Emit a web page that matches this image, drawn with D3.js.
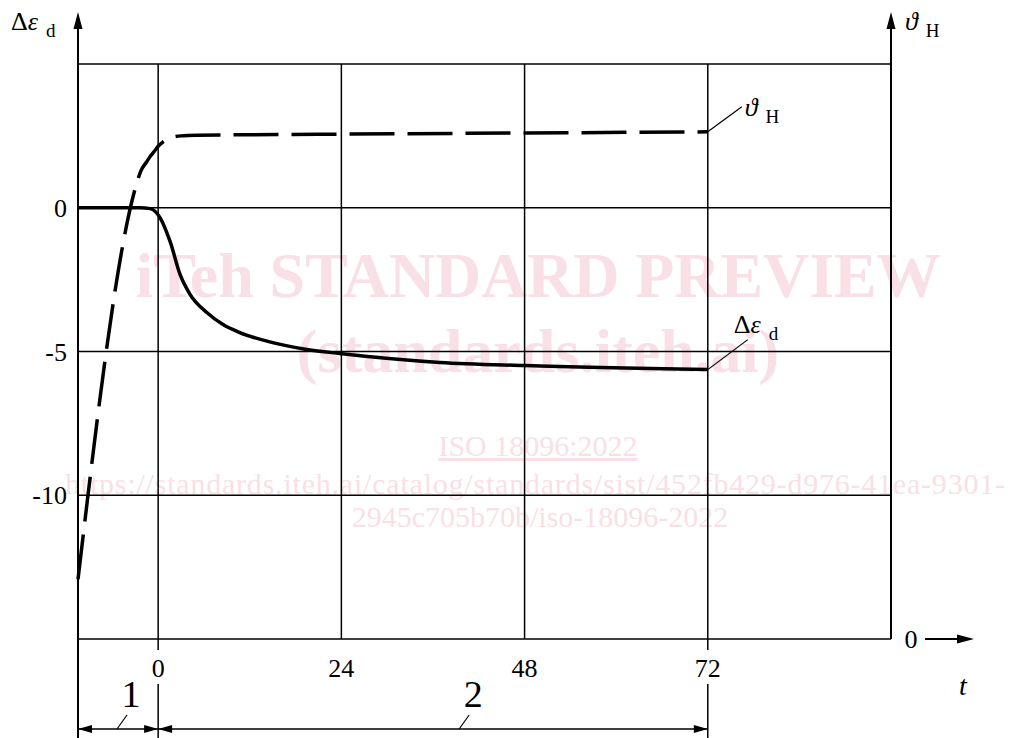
<!DOCTYPE html>
<html>
	<head>
		<meta charset="utf-8">
		<title>delta eps / theta H vs t</title>
		<script src="https://d3js.org/d3.v7.min.js"></script>
		<style>
			body { margin: 0; background: #fff; }
			text { font-family: "Liberation Serif", "DejaVu Serif", serif; }
		</style>
	</head>
	<body>
		<div id="chart"></div>
		<script>
			// values
			var tTicks = [0, 24, 48, 72];
			var epsTicks = [0, -5, -10];
			var gridEps = [5, 0, -5, -10, -15];
			var gridT = [0, 24, 48, 72];

			// solid line, delta eps_d
			var epsT = [-10.5, -2.4, -1.05, 0.26, 1.57, 2.88, 4.19, 6.41, 8.5, 10.7, 15, 19.5, 23.8, 36.9, 48, 72];
			var epsVal = [0, 0, -0.03, -0.35, -1.18, -2.33, -3.02, -3.65, -4.06, -4.34, -4.69, -4.93, -5.07, -5.38, -5.49, -5.63];

			// dashed line, theta_H (own axis, only 0 is marked, arbitrary units)
			var thetaT = [-10.5, -2.75, -2.3, -1.5, -1, -0.4, 0, 0.6, 1.2, 2, 3, 5, 24, 48, 72];
			var thetaVal = [10.4, 79.5, 81.3, 83.0, 84.0, 85.0, 85.7, 86.4, 86.9, 87.3, 87.5, 87.6, 87.8, 88.0, 88.2];

			// phases under the axis
			var phaseStart = [-10.5, 0];
			var phaseEnd = [0, 72];
			var phaseLabel = ["1", "2"];

			var width = 1010, height = 738;

			var xScale = d3.scaleLinear().domain([-10.5, 96]).range([78, 891]);
			var yScale = d3.scaleLinear().domain([-15, 5]).range([639, 64]);
			var thScale = d3.scaleLinear().domain([0, 100]).range([639, 64]);

			var svg = d3.select("#chart")
				.append("svg")
				.attr("width", width)
				.attr("height", height);

			var x0 = xScale.range()[0], x1 = xScale.range()[1];
			var yTop = yScale.range()[1], yBot = yScale.range()[0];

			// watermark, sits behind everything
			var wm = svg.append("g").attr("fill", "#f9dfe6");
			wm.append("text").text("iTeh STANDARD PREVIEW")
				.attr("x", 538).attr("y", 297)
				.attr("text-anchor", "middle")
				.attr("font-weight", "bold")
				.attr("font-size", 64)
				.attr("textLength", 805);
			wm.append("text").text("(standards.iteh.ai)")
				.attr("x", 538).attr("y", 372)
				.attr("text-anchor", "middle")
				.attr("font-weight", "bold")
				.attr("font-size", 62);
			wm.append("text").text("ISO 18096:2022")
				.attr("x", 538).attr("y", 456)
				.attr("text-anchor", "middle")
				.attr("font-size", 30)
				.attr("text-decoration", "underline");
			wm.append("text").text("https://standards.iteh.ai/catalog/standards/sist/452fb429-d976-41ea-9301-")
				.attr("x", 535).attr("y", 494)
				.attr("text-anchor", "middle")
				.attr("font-size", 30)
				.attr("textLength", 940);
			wm.append("text").text("2945c705b70b/iso-18096-2022")
				.attr("x", 540).attr("y", 527)
				.attr("text-anchor", "middle")
				.attr("font-size", 30);

			// grid
			gridEps.forEach(function(v){
				svg.append("line")
					.attr("x1", x0).attr("x2", x1)
					.attr("y1", yScale(v)).attr("y2", yScale(v))
					.style("stroke", "#000").style("stroke-width", 1.5);
			});
			gridT.forEach(function(t){
				svg.append("line")
					.attr("x1", xScale(t)).attr("x2", xScale(t))
					.attr("y1", yTop).attr("y2", yBot)
					.style("stroke", "#000").style("stroke-width", 1.5);
			});

			// left axis with arrow
			svg.append("line")
				.attr("x1", x0).attr("x2", x0)
				.attr("y1", height).attr("y2", 26)
				.style("stroke", "#000").style("stroke-width", 2);
			svg.append("path")
				.attr("d", "M" + x0 + ",12 L" + (x0 - 4.5) + ",29 L" + (x0 + 4.5) + ",29 Z")
				.attr("fill", "#000");

			// right axis with arrow
			svg.append("line")
				.attr("x1", x1).attr("x2", x1)
				.attr("y1", yBot).attr("y2", 26)
				.style("stroke", "#000").style("stroke-width", 2);
			svg.append("path")
				.attr("d", "M" + x1 + ",12 L" + (x1 - 4.5) + ",29 L" + (x1 + 4.5) + ",29 Z")
				.attr("fill", "#000");

			// t direction arrow after the right 0
			svg.append("line")
				.attr("x1", x1 + 34).attr("x2", x1 + 70)
				.attr("y1", yBot).attr("y2", yBot)
				.style("stroke", "#000").style("stroke-width", 2);
			svg.append("path")
				.attr("d", "M" + (x1 + 83) + "," + yBot + " L" + (x1 + 66) + "," + (yBot - 4.5) + " L" + (x1 + 66) + "," + (yBot + 4.5) + " Z")
				.attr("fill", "#000");
			svg.append("text").text("0")
				.attr("x", x1 + 20).attr("y", yBot + 9)
				.attr("text-anchor", "middle")
				.attr("font-size", 26);

			// left tick labels
			epsTicks.forEach(function(v){
				svg.append("text").text(v)
					.attr("x", 67).attr("y", yScale(v) + 9)
					.attr("text-anchor", "end")
					.attr("font-size", 26);
			});

			// t tick labels
			tTicks.forEach(function(t){
				svg.append("text").text(t)
					.attr("x", xScale(t)).attr("y", 677)
					.attr("text-anchor", "middle")
					.attr("font-size", 26);
			});
			svg.append("text").text("t")
				.attr("x", 963).attr("y", 695)
				.attr("text-anchor", "middle")
				.attr("font-style", "italic")
				.attr("font-size", 28);

			// extension lines below the plot for the phase limits
			[0, 72].forEach(function(t){
				svg.append("line")
					.attr("x1", xScale(t)).attr("x2", xScale(t))
					.attr("y1", yBot).attr("y2", 650)
					.style("stroke", "#000").style("stroke-width", 1.5);
				svg.append("line")
					.attr("x1", xScale(t)).attr("x2", xScale(t))
					.attr("y1", 684).attr("y2", height)
					.style("stroke", "#000").style("stroke-width", 1.5);
			});

			// dimension arrows for phases 1 and 2
			var dimY = 729;
			phaseStart.forEach(function(s, i){
				var a = xScale(s), b = xScale(phaseEnd[i]);
				svg.append("line")
					.attr("x1", a).attr("x2", b)
					.attr("y1", dimY).attr("y2", dimY)
					.style("stroke", "#000").style("stroke-width", 1.5);
				svg.append("path")
					.attr("d", "M" + a + "," + dimY + " L" + (a + 14) + "," + (dimY - 4) + " L" + (a + 14) + "," + (dimY + 4) + " Z")
					.attr("fill", "#000");
				svg.append("path")
					.attr("d", "M" + b + "," + dimY + " L" + (b - 14) + "," + (dimY - 4) + " L" + (b - 14) + "," + (dimY + 4) + " Z")
					.attr("fill", "#000");
				var lx = i == 0 ? a + 39 : a + 301;
				svg.append("line")
					.attr("x1", lx).attr("y1", dimY)
					.attr("x2", lx + 10).attr("y2", dimY - 14)
					.style("stroke", "#000").style("stroke-width", 1.2);
				svg.append("text").text(phaseLabel[i])
					.attr("x", lx + 14).attr("y", dimY - 22)
					.attr("text-anchor", "middle")
					.attr("font-size", 38);
			});

			// curves
			var epsData = epsT.map(function(t, i){ return [t, epsVal[i]]; });
			var thetaData = thetaT.map(function(t, i){ return [t, thetaVal[i]]; });

			var epsLine = d3.line()
				.x(function(d){ return xScale(d[0]); })
				.y(function(d){ return yScale(d[1]); })
				.curve(d3.curveMonotoneX);
			var thetaLine = d3.line()
				.x(function(d){ return xScale(d[0]); })
				.y(function(d){ return thScale(d[1]); })
				.curve(d3.curveMonotoneX);

			svg.append("path")
				.attr("d", thetaLine(thetaData))
				.style("fill", "none")
				.style("stroke", "#000")
				.style("stroke-width", 3.5)
				.style("stroke-dasharray", "45,13");

			svg.append("path")
				.attr("d", epsLine(epsData))
				.style("fill", "none")
				.style("stroke", "#000")
				.style("stroke-width", 3.5);

			// symbol + subscript drawn as two texts so they don't collide
			function symLabel(x, y, parts, sub) {
				var t = svg.append("text").attr("x", x).attr("y", y).attr("font-size", 26);
				parts.forEach(function(p){
					t.append("tspan").text(p[0]).attr("font-style", p[1] ? "italic" : null);
				});
				var w = t.node().getComputedTextLength();
				svg.append("text").text(sub)
					.attr("x", x + w + 8).attr("y", y + 7)
					.attr("font-size", 19);
			}

			// curve labels with leaders
			var thEnd = thetaData[thetaData.length - 1];
			var ex = xScale(thEnd[0]), ey = thScale(thEnd[1]);
			svg.append("line")
				.attr("x1", ex).attr("y1", ey)
				.attr("x2", ex + 34).attr("y2", ey - 25)
				.style("stroke", "#000").style("stroke-width", 1.2);
			symLabel(ex + 37, ey - 16, [["\u03D1", true]], "H");

			var epEnd = epsData[epsData.length - 1];
			var fx = xScale(epEnd[0]), fy = yScale(epEnd[1]);
			svg.append("line")
				.attr("x1", fx).attr("y1", fy)
				.attr("x2", fx + 40).attr("y2", fy - 30)
				.style("stroke", "#000").style("stroke-width", 1.2);
			symLabel(fx + 26, fy - 37, [["\u0394", false], ["\u03B5", true]], "d");

			// axis titles
			symLabel(11, 30, [["\u0394", false], ["\u03B5", true]], "d");
			symLabel(905, 30, [["\u03D1", true]], "H");
		</script>
	</body>
</html>
